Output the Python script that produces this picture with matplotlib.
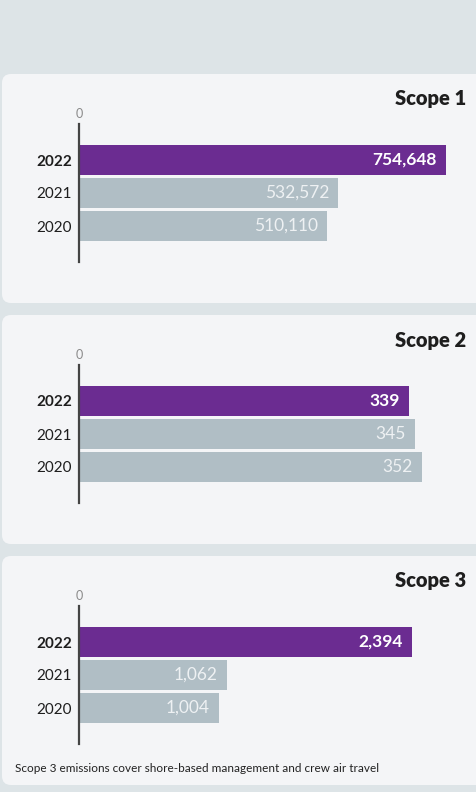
import matplotlib.pyplot as plt
from matplotlib.patches import FancyBboxPatch
from matplotlib.transforms import IdentityTransform

plt.rcParams['font.family'] = ['Lato', 'DejaVu Sans']

# datos
anios = ['2022', '2021', '2020']
titulos = ['Scope 1', 'Scope 2', 'Scope 3']
scope1 = [754648, 532572, 510110]
scope2 = [339, 345, 352]
scope3 = [2394, 1062, 1004]
nota = 'Scope 3 emissions cover shore-based management and crew air travel'

series = [scope1, scope2, scope3]
# limite derecho de cada eje (cada panel tiene su propia escala)
xmax = [797800, 398.2, 2789]

FONDO = '#dde4e7'
PANEL = '#f4f5f7'
MORADO = '#6b2c91'
GRIS = '#b0bec5'

W, H = 477, 792
fig = plt.figure(figsize=(W / 100, H / 100), dpi=100, facecolor=FONDO)

tops = [74, 315, 556]
alto_panel = 229
x_eje = 79
x_der = 467

for k, (top, vals) in enumerate(zip(tops, series)):
    # panel redondeado en pixeles
    p = FancyBboxPatch((2, H - top - alto_panel), 490, alto_panel,
                       boxstyle='round,pad=0,rounding_size=9',
                       transform=IdentityTransform(), facecolor=PANEL,
                       edgecolor='none', zorder=0)
    fig.add_artist(p)

    fig.text((x_der - 1) / W, 1 - (top + 25) / H, titulos[k], ha='right', va='center',
             fontsize=14.5, fontweight='heavy', color='#1e1e1e')

    eje_top = top + 50
    eje_alto = 138
    ax = fig.add_axes([x_eje / W, 1 - (eje_top + eje_alto) / H,
                       (x_der - x_eje) / W, eje_alto / H])
    ax.set_facecolor('none')
    y = [0, 1, 2]
    colores = [MORADO, GRIS, GRIS]
    ax.barh(y, vals, height=30 / 33, color=colores, zorder=2)
    ax.set_xlim(0, xmax[k])
    ax.set_ylim(2 + 36 / 33, -36 / 33)

    for i, v in enumerate(vals):
        ax.annotate(f'{v:,}', (v, i), xytext=(-6.5, 0), textcoords='offset points',
                    ha='right', va='center', fontsize=12.5,
                    color='white' if i == 0 else '#eef1f3',
                    fontweight='bold' if i == 0 else 'normal', zorder=3)

    for s in ['top', 'right', 'bottom']:
        ax.spines[s].set_visible(False)
    ax.spines['left'].set_color('#444444')
    ax.spines['left'].set_linewidth(1.6)
    ax.spines['left'].set_zorder(4)

    ax.set_yticks(y)
    ax.set_yticklabels(anios, fontsize=11, color='#1e1e1e')
    ax.get_yticklabels()[0].set_fontweight('bold')
    ax.tick_params(axis='y', length=0, pad=5)

    ax.xaxis.tick_top()
    ax.set_xticks([0])
    ax.set_xticklabels(['0'], fontsize=9, color='#8a8a8a')
    ax.tick_params(axis='x', length=0, pad=3)

fig.text(15 / W, 1 - 769 / H, nota, ha='left', va='center', fontsize=8.5, color='#222222')

fig.savefig('out.png', dpi=100, facecolor=FONDO)
